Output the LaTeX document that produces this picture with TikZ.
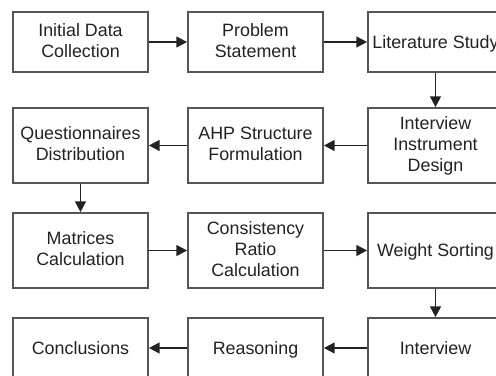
\documentclass[tikz,border=0pt]{standalone}
\usepackage{fontspec}
\setmainfont{Liberation Sans}
\usetikzlibrary{arrows.meta}
\definecolor{boxline}{HTML}{555555}
\definecolor{txt}{HTML}{222222}
\definecolor{arr}{HTML}{222222}
\newcommand{\mystrut}{\rule[-2.7pt]{0pt}{15pt}}
\begin{document}
\begin{tikzpicture}[x=0.75pt,y=-0.75pt,
  stepbox/.style={draw=boxline,line width=1.7*0.75pt,minimum width=135*0.75pt,align=center,
    inner sep=0pt,text=txt,font=\fontsize{13.4pt}{15.75pt}\selectfont,
    execute at begin node={\mystrut}, execute at end node={\mystrut}},
  h60/.style={minimum height=60*0.75pt},
  h75/.style={minimum height=75*0.75pt},
  flow/.style={draw=arr,line width=1.8*0.75pt,-{Triangle[length=8pt,width=8pt]}}]
\useasboundingbox (0,0) rectangle (496,375);
\clip (0,0) rectangle (496,375);
\node[stepbox,h60] (a) at (80.5,42) {Initial Data\\Collection};
\node[stepbox,h60] (b) at (255.5,42) {Problem\\Statement};
\node[stepbox,h60] (c) at (435.5,42) {Literature Study};
\node[stepbox,h75] (d) at (80.5,145.5) {Questionnaires\\Distribution};
\node[stepbox,h75] (e) at (255.5,145.5) {AHP Structure\\Formulation};
\node[stepbox,h75] (f) at (435.5,145.5) {Interview\\Instrument\\Design};
\node[stepbox,h75] (g) at (80.5,250.5) {Matrices\\Calculation};
\node[stepbox,h75] (h) at (255.5,250.5) {Consistency\\Ratio\\Calculation};
\node[stepbox,h75] (i) at (435.5,250.5) {Weight Sorting};
\node[stepbox,h60] (j) at (80.5,348) {Conclusions};
\node[stepbox,h60] (k) at (255.5,348) {Reasoning};
\node[stepbox,h60] (l) at (435.5,348) {Interview};
\draw[flow] (a) -- (b);
\draw[flow] (b) -- (c);
\draw[flow] (c) -- (f);
\draw[flow] (f) -- (e);
\draw[flow] (e) -- (d);
\draw[flow] (d) -- (g);
\draw[flow] (g) -- (h);
\draw[flow] (h) -- (i);
\draw[flow] (i) -- (l);
\draw[flow] (l) -- (k);
\draw[flow] (k) -- (j);
\end{tikzpicture}
\end{document}
